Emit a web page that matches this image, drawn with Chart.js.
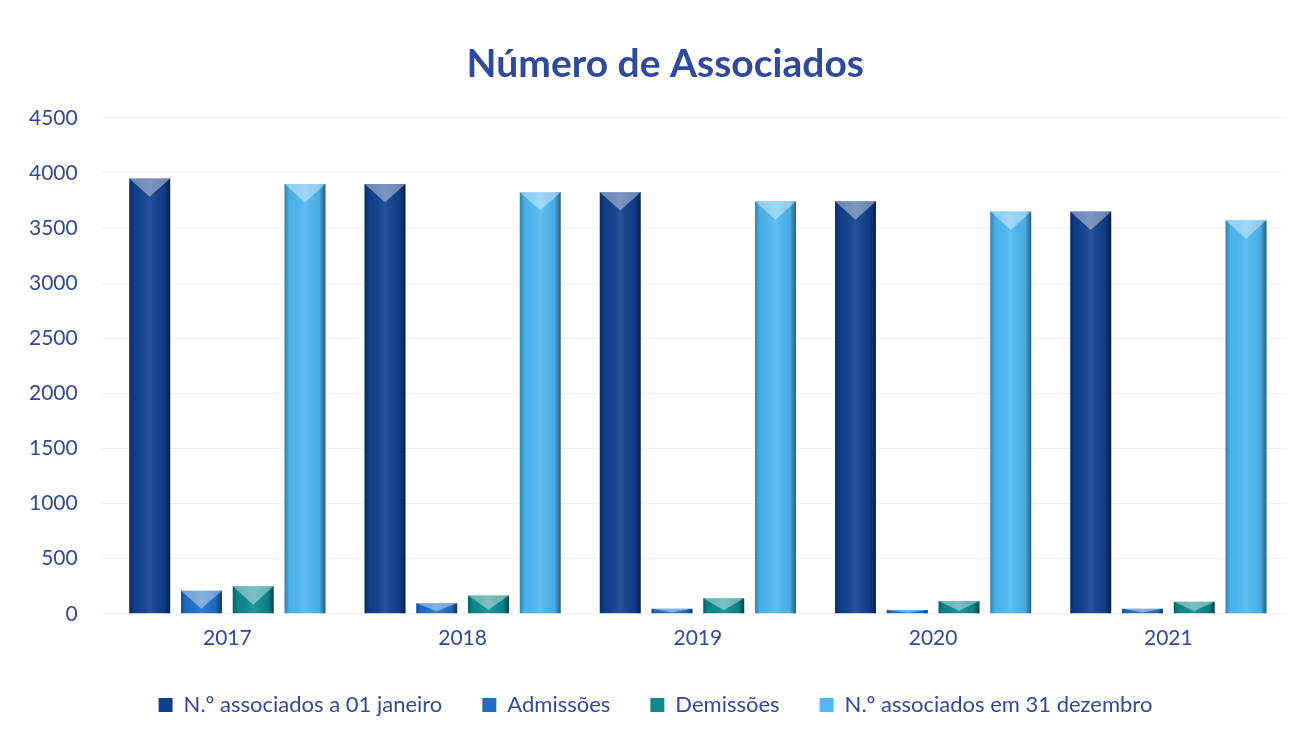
<!DOCTYPE html>
<html><head><meta charset="utf-8">
<script src="https://cdn.jsdelivr.net/npm/chart.js@4.4.1/dist/chart.umd.min.js"></script>
<style>html,body{margin:0;padding:0;background:#fff;}#wrap{width:1306px;height:736px;}</style>
</head><body><div id="wrap"><canvas id="c"></canvas></div>
<script>
const categories = ['2017','2018','2019','2020','2021'];
const associadosJaneiro = [3950, 3900, 3825, 3742, 3650];
const admissoes = [210, 95, 45, 35, 45];
const demissoes = [250, 165, 140, 115, 110];
const associadosDezembro = [3900, 3825, 3742, 3650, 3570];
const seriesNames = ['N.º associados a 01 janeiro','Admissões','Demissões','N.º associados em 31 dezembro'];
const yTicks = [0,500,1000,1500,2000,2500,3000,3500,4000,4500];
const chartTitle = 'Número de Associados';

const textBlue = '#2f4a9c';
const bevel = {
  id:'bevel',
  afterDatasetsDraw(chart){
    const ctx = chart.ctx;
    chart.data.datasets.forEach((ds,di)=>{
      const meta = chart.getDatasetMeta(di);
      meta.data.forEach(el=>{
        const {x,y,base,width} = el.getProps(['x','y','base','width'],true);
        const l = x - width/2, r = x + width/2, h = base - y;
        if (h <= 0) return;
        ctx.save();
        const g = ctx.createLinearGradient(l,0,r,0);
        g.addColorStop(0,'rgba(0,0,0,0.30)');
        g.addColorStop(0.12,'rgba(0,0,0,0.04)');
        g.addColorStop(0.5,'rgba(255,255,255,0.10)');
        g.addColorStop(0.85,'rgba(0,0,0,0.06)');
        g.addColorStop(1,'rgba(0,0,0,0.50)');
        ctx.fillStyle = g;
        ctx.fillRect(l,y,width,h);
        const d = Math.min(width*0.45, h*0.8);
        ctx.beginPath();
        ctx.moveTo(l,y); ctx.lineTo(r,y); ctx.lineTo(x,y+d); ctx.closePath();
        ctx.fillStyle = 'rgba(255,255,255,0.40)';
        ctx.fill();
        ctx.restore();
      });
    });
  }
};

new Chart(document.getElementById('c'), {
  type:'bar',
  data:{
    labels: categories,
    datasets:[
      {label:seriesNames[0], data:associadosJaneiro, backgroundColor:'#0f3f8e'},
      {label:seriesNames[1], data:admissoes, backgroundColor:'#1f6fc6'},
      {label:seriesNames[2], data:demissoes, backgroundColor:'#0c8a8f'},
      {label:seriesNames[3], data:associadosDezembro, backgroundColor:'#4db8f2'}
    ]
  },
  options:{
    responsive:true, maintainAspectRatio:false, animation:false,
    layout:{padding:{left:5,right:0,top:8,bottom:10}},
    datasets:{bar:{categoryPercentage:0.88, barPercentage:0.79}},
    plugins:{
      title:{display:true, text:'\u2002' + chartTitle, color:textBlue,
        font:{family:'Lato', size:39, weight:'bold'}, padding:{top:33,bottom:30}},
      legend:{position:'bottom', labels:{color:textBlue, font:{family:'Lato', size:22},
        boxWidth:14, boxHeight:14, padding:40}},
      tooltip:{enabled:false}
    },
    scales:{
      x:{grid:{display:false}, border:{display:false},
         ticks:{color:textBlue, font:{family:'Lato', size:21, lineHeight:0.2}, padding:14}},
      y:{min:0, max:4500, afterBuildTicks(axis){axis.ticks = yTicks.map(v=>({value:v}));},
         grid:{color:'#f0f0f0'}, border:{display:false},
         ticks:{color:textBlue, font:{family:'Lato', size:21}, padding:24,
           callback:(v)=>String(v)}},
      yRightSpace:{position:'right', display:true, min:0, max:4500,
         grid:{display:false}, border:{display:false}, ticks:{display:false},
         afterFit(axis){axis.width = 20;}}
    }
  },
  plugins:[bevel]
});
</script></body></html>
